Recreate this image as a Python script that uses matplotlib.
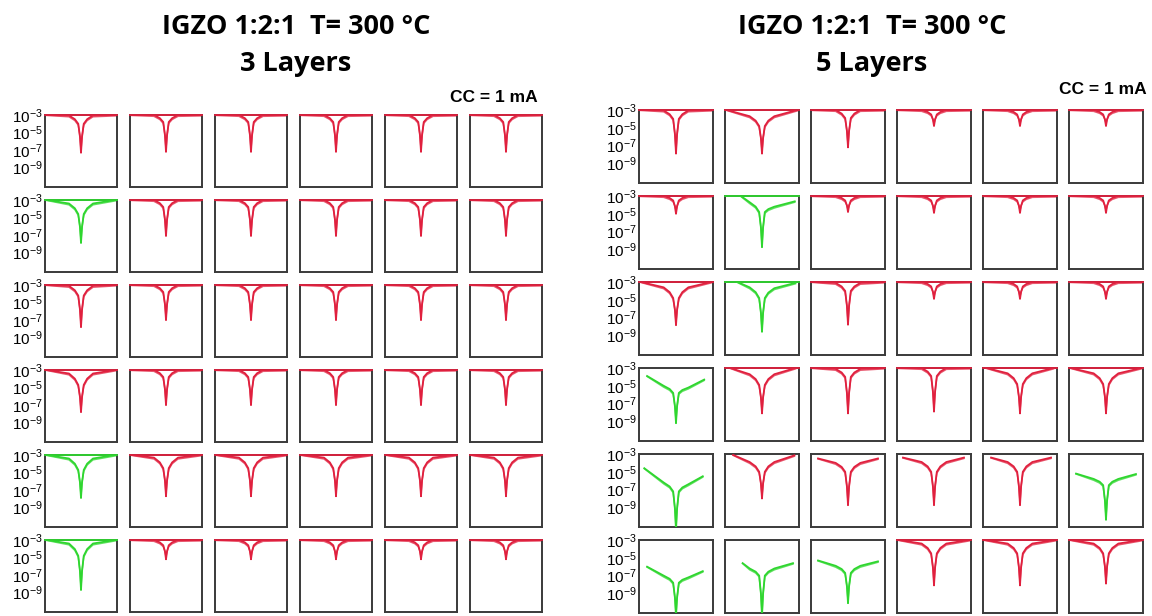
import numpy as np
import matplotlib
matplotlib.use("Agg")
import matplotlib.pyplot as plt

plt.rcParams['font.family'] = ['Liberation Sans', 'DejaVu Sans']
plt.rcParams['mathtext.fontset'] = 'custom'
plt.rcParams['mathtext.rm'] = 'Liberation Sans'
plt.rcParams['mathtext.it'] = 'Liberation Sans'
plt.rcParams['mathtext.default'] = 'regular'

# ---------------- data (log10 of current, A) ----------------
TITLE = "IGZO 1:2:1  T= 300 \u00b0C"
PANEL_NAMES = ["3 Layers", "5 Layers"]
CC_TEXT = "CC = 1 mA"
YTICKS = [-3, -5, -7, -9]
YTICK_LABELS = ["$10^{-3}$", "$10^{-5}$", "$10^{-7}$", "$10^{-9}$"]

# 3 layers
color3 = ["rrrrrr", "grrrrr", "rrrrrr", "rrrrrr", "grrrrr", "grrrrr"]
dip3 = [[-7.3, -7.2, -7.2, -7.2, -7.2, -7.2],
        [-7.9, -7.1, -7.1, -7.1, -7.1, -7.1],
        [-7.8, -7.0, -7.0, -7.0, -7.0, -7.0],
        [-7.8, -7.0, -7.0, -7.0, -7.0, -7.0],
        [-7.9, -7.7, -7.7, -7.7, -7.7, -7.7],
        [-8.7, -5.2, -5.2, -5.2, -5.2, -5.2]]
knee3 = [[-4.0, -3.8, -3.8, -3.8, -3.8, -3.8],
         [-4.6, -3.8, -3.8, -3.8, -3.8, -3.8],
         [-4.2, -3.8, -3.8, -3.8, -3.8, -3.8],
         [-4.7, -3.8, -3.8, -3.8, -3.8, -3.8],
         [-4.7, -4.5, -4.5, -4.5, -4.5, -4.5],
         [-4.8, -3.6, -3.6, -3.6, -3.6, -3.6]]
midL3 = [[-3.05, -3.0, -3.0, -3.0, -3.0, -3.0],
         [-3.4, -3.0, -3.0, -3.0, -3.0, -3.0],
         [-3.1, -3.0, -3.0, -3.0, -3.0, -3.0],
         [-3.4, -3.0, -3.0, -3.0, -3.0, -3.0],
         [-3.4, -3.3, -3.3, -3.3, -3.3, -3.3],
         [-3.4, -3.0, -3.0, -3.0, -3.0, -3.0]]
midR3 = midL3
endL3 = [[-3.0] * 6 for _ in range(6)]
endR3 = [[-3.0] * 6 for _ in range(6)]
xL3 = [[-1.0] * 6 for _ in range(6)]
xR3 = [[1.0] * 6 for _ in range(6)]

# 5 layers
color5 = ["rrrrrr", "rgrrrr", "rgrrrr", "grrrrr", "grrrrg", "gggrrr"]
dip5 = [[-7.9, -7.9, -7.2, -4.8, -4.8, -4.8],
        [-5.0, -8.75, -4.8, -4.9, -4.9, -4.9],
        [-7.85, -8.6, -7.8, -4.9, -4.9, -4.9],
        [-9.2, -8.1, -8.1, -7.9, -8.1, -8.1],
        [-11.6, -8.0, -8.75, -8.75, -8.75, -10.4],
        [-11.6, -11.6, -10.1, -8.1, -8.1, -7.9]]
knee5 = [[-4.0, -4.8, -3.9, -3.5, -3.5, -3.5],
         [-3.5, -4.8, -3.5, -3.5, -3.5, -3.5],
         [-4.8, -4.8, -4.0, -3.5, -3.5, -3.5],
         [-5.8, -4.9, -4.0, -3.9, -4.8, -4.8],
         [-7.2, -5.0, -5.0, -5.0, -5.0, -6.5],
         [-7.8, -7.0, -6.7, -4.5, -4.5, -4.5]]
midL5 = [[-3.05, -3.7, -3.0, -3.0, -3.0, -3.0],
         [-3.0, -3.7, -3.0, -3.0, -3.0, -3.0],
         [-3.6, -3.6, -3.1, -3.0, -3.0, -3.0],
         [-5.0, -3.7, -3.1, -3.0, -3.6, -3.6],
         [-6.2, -3.9, -4.0, -3.9, -3.9, -5.8],
         [-7.0, -6.2, -5.9, -3.4, -3.4, -3.4]]
midR5 = [[-3.05, -3.7, -3.0, -3.0, -3.0, -3.0],
         [-3.0, -4.2, -3.0, -3.0, -3.0, -3.0],
         [-3.6, -3.7, -3.1, -3.0, -3.0, -3.0],
         [-5.2, -3.7, -3.1, -3.0, -3.6, -3.6],
         [-6.4, -3.9, -4.0, -3.9, -3.9, -5.8],
         [-7.2, -6.2, -5.9, -3.4, -3.4, -3.4]]
endL5 = [[-3.0, -3.0, -3.0, -3.0, -3.0, -3.0],
         [-3.0, -3.0, -3.0, -3.0, -3.0, -3.0],
         [-3.0, -3.0, -3.0, -3.0, -3.0, -3.0],
         [-3.9, -3.0, -3.0, -3.0, -3.0, -3.0],
         [-4.6, -3.1, -3.5, -3.4, -3.4, -5.2],
         [-6.0, -5.6, -5.3, -3.0, -3.0, -3.0]]
endR5 = [[-3.0, -3.0, -3.0, -3.0, -3.0, -3.0],
         [-3.0, -3.6, -3.0, -3.0, -3.0, -3.0],
         [-3.0, -3.1, -3.0, -3.0, -3.0, -3.0],
         [-4.3, -3.0, -3.0, -3.0, -3.0, -3.0],
         [-5.5, -3.15, -3.5, -3.4, -3.4, -5.25],
         [-6.5, -5.6, -5.4, -3.0, -3.0, -3.0]]
xL5 = [[-1.0, -1.0, -1.0, -1.0, -1.0, -1.0],
       [-1.0, -0.6, -1.0, -1.0, -1.0, -1.0],
       [-1.0, -0.7, -1.0, -1.0, -1.0, -1.0],
       [-0.82, -0.9, -1.0, -1.0, -0.95, -1.0],
       [-0.9, -0.82, -0.85, -0.88, -0.82, -0.85],
       [-0.82, -0.55, -0.85, -1.0, -1.0, -1.0]]
xR5 = [[1.0, 1.0, 1.0, 1.0, 1.0, 1.0],
       [1.0, 0.93, 1.0, 1.0, 1.0, 1.0],
       [1.0, 0.95, 1.0, 1.0, 1.0, 1.0],
       [0.8, 0.95, 1.0, 1.0, 0.95, 1.0],
       [0.76, 0.92, 0.85, 0.85, 0.88, 0.85],
       [0.76, 0.88, 0.85, 1.0, 1.0, 1.0]]

RED = "#e0203e"
GREEN = "#2fd62f"
YMIN, YMAX = -11.2, -3.0

W, H = 1152, 616
fig = plt.figure(figsize=(W / 100, H / 100), dpi=100)


def curve(xl, yl, ml, mr, knee, dip, xr, yr):
    # sweep shape through the read key levels (end -> mid -> knee -> dip)
    xs = [xl, -0.35, -0.18, -0.08, -0.03, -0.008, 0.0,
          0.008, 0.03, 0.08, 0.18, 0.35, xr]
    ys = [yl, ml, ml + 0.45 * (knee - ml), knee,
          knee + 0.45 * (dip - knee), knee + 0.85 * (dip - knee), dip,
          knee + 0.85 * (dip - knee), knee + 0.45 * (dip - knee), knee,
          mr + 0.45 * (knee - mr), mr, yr]
    if xl > -0.35:
        xs, ys = xs[1:], ys[1:]
        xs[0], ys[0] = xl, yl
    if xr < 0.35:
        xs, ys = xs[:-1], ys[:-1]
        xs[-1], ys[-1] = xr, yr
    return np.array(xs), 10.0 ** np.array(ys)


panels = [
    dict(colors=color3, dip=dip3, knee=knee3, midL=midL3, midR=midR3,
         endL=endL3, endR=endR3, xL=xL3, xR=xR3,
         x0=45, dx=85, w=72, y0=115, dy=85, h=72),
    dict(colors=color5, dip=dip5, knee=knee5, midL=midL5, midR=midR5,
         endL=endL5, endR=endR5, xL=xL5, xR=xR5,
         x0=639, dx=86, w=74, y0=110, dy=86, h=73),
]

for p in panels:
    for r in range(6):
        for c in range(6):
            left = (p['x0'] + c * p['dx']) / W
            bottom = 1 - (p['y0'] + r * p['dy'] + p['h']) / H
            ax = fig.add_axes([left, bottom, p['w'] / W, p['h'] / H])
            ax.set_yscale('log')
            ax.set_xlim(-1.05, 1.05)
            ax.set_ylim(10 ** YMIN, 10 ** YMAX)
            col = RED if p['colors'][r][c] == 'r' else GREEN
            xl, yl = p['xL'][r][c], p['endL'][r][c]
            xr, yr = p['xR'][r][c], p['endR'][r][c]
            ml, mr = p['midL'][r][c], p['midR'][r][c]
            knee, dip = p['knee'][r][c], p['dip'][r][c]
            x, y = curve(xl, yl, ml, mr, knee, dip, xr, yr)
            ax.plot(x, y, color=col, lw=1.3, solid_joinstyle='round', zorder=3)
            x2, y2 = curve(xl, yl - 0.05, ml - 0.15, mr - 0.15, knee - 0.15,
                           dip + 0.3, xr, yr - 0.1)
            ax.plot(x2, y2, color=col, lw=1.1, alpha=0.75, zorder=3)
            if max(yl, yr, ml, mr) >= -3.0:
                ax.axhline(10 ** YMAX, color=col, lw=1.3, zorder=4,
                           clip_on=False)
            ax.set_xticks([])
            ax.minorticks_off()
            ax.set_yticks([10.0 ** v for v in YTICKS])
            if c == 0:
                ax.set_yticklabels(YTICK_LABELS, fontsize=11)
            else:
                ax.set_yticklabels([])
            ax.tick_params(axis='y', length=0, pad=1.5)
            for s in ax.spines.values():
                s.set_color('#3a3a3a')
                s.set_linewidth(1.4)

# titles
for cx, name in [(296, PANEL_NAMES[0]), (872, PANEL_NAMES[1])]:
    fig.text(cx / W, 1 - 27 / H, TITLE, ha='center', va='center',
             fontsize=19.5, fontweight='bold', family=['Open Sans', 'DejaVu Sans'])
    fig.text(cx / W, 1 - 64 / H, name, ha='center', va='center',
             fontsize=19.5, fontweight='bold', family=['Open Sans', 'DejaVu Sans'])

fig.text(494 / W, 1 - 98 / H, CC_TEXT, ha='center', va='center',
         fontsize=12.5, fontweight='bold')
fig.text(1103 / W, 1 - 89 / H, CC_TEXT, ha='center', va='center',
         fontsize=12.5, fontweight='bold')

fig.savefig("out.png", dpi=100, facecolor='white')
